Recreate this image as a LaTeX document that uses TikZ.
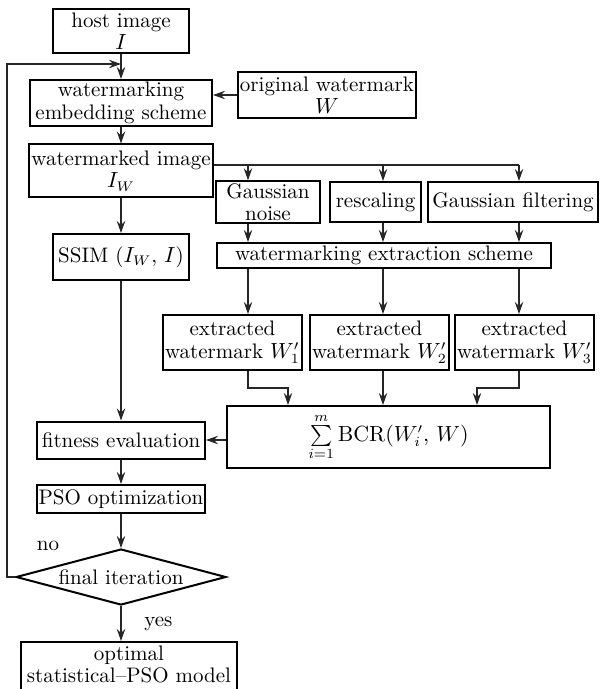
\documentclass[tikz,border=0pt]{standalone}
\usepackage{amsmath}
\usepackage{amssymb}
\usepackage{tikz}
\usetikzlibrary{shapes,arrows.meta}
\tikzset{
  wmbox/.style={rectangle, draw, line width=1pt, inner sep=1pt, align=center},
  wmline/.style={draw=black!85, line width=0.6pt, -{Stealth[length=6pt,width=4.2pt,inset=2pt]}},
  wmplain/.style={draw=black!85, line width=0.6pt}
}
\newcommand{\wmnode}[5] {\node at (#1) (#2) [wmbox, minimum width=#3, minimum height=#4] {#5};}
\newcommand{\wmtest}[3] {\node at (#1) (#2) [wmbox, diamond, aspect=3.75, inner sep=0pt, minimum width=105pt, minimum height=28pt] {#3};}
\newcommand{\wmarrow}[2] {\draw [wmline] (#1) -- (#2);}

\begin{document}
\begin{tikzpicture}[x=0.5pt, y=-0.5pt, font=\fontsize{10.5}{11.2}\selectfont]
\useasboundingbox (0,0) rectangle (599,689);
\clip (0,0) rectangle (599,689);

% left column
\wmnode {121,31}{host}{68pt}{22pt}{host image\\$I$}
\wmnode {121,103}{embed}{91pt}{23pt}{watermarking\\embedding scheme}
\wmnode {327,95}{orig}{89pt}{23pt}{original watermark\\$W$}
\wmnode {121,171}{wmimg}{92pt}{26.5pt}{watermarked image\\$I_W$}
\wmnode {121,257}{ssim}{68pt}{23pt}{SSIM ($I_W$, $I$)}
\wmnode {121,440}{fit}{84pt}{18.5pt}{fitness evaluation}
\wmnode {121,499}{pso}{83.5pt}{14pt}{PSO optimization}
\wmtest {121,577}{final}{final iteration}
\node at (129,641) (optimal) [wmbox, anchor=north, inner sep=2pt, minimum width=108pt, text depth=30pt] {optimal\\statistical--PSO model};

% attacks
\wmnode {268,202}{gauss}{52pt}{20pt}{Gaussian\\noise}
\wmnode {375.5,202}{resc}{45.5pt}{20pt}{rescaling}
\wmnode {513,202}{filt}{85pt}{20pt}{Gaussian filtering}
\wmnode {384,255.5}{extr}{167pt}{12.5pt}{watermarking extraction scheme}
\wmnode {232.5,342.5}{ex1}{68.5pt}{27.5pt}{extracted\\watermark $W_1'$}
\wmnode {379.5,342.5}{ex2}{67.5pt}{27.5pt}{extracted\\watermark $W_2'$}
\wmnode {524.5,342.5}{ex3}{67.5pt}{27.5pt}{extracted\\watermark $W_3'$}
\wmnode {388.5,437}{bcr}{161.5pt}{31pt}{$\sum\limits_{i=1}^{m}\mathrm{BCR}(W_i',\,W)$}

% main flow
\wmarrow {host.south}{embed.north}
\wmarrow {orig.west}{orig.west -| embed.east}
\wmarrow {embed.south}{wmimg.north}
\wmarrow {wmimg.south}{ssim.north}
\wmarrow {ssim.south}{fit.north}
\wmarrow {fit.east -| bcr.west}{fit.east}
\wmarrow {fit.south}{pso.north}
\wmarrow {pso.south}{final.north}
\draw [wmline] (final.south) -- (final.south |- optimal.north) node [midway, right=8pt] {yes};

% loop back
\coordinate (loop) at (7,64);
\draw [wmline] (final.west) -| (loop) -- (loop -| host.south);
\node at (48,546) (no) {no};

% branches
\coordinate (tapG) at (248,165);
\coordinate (tapR) at (383,165);
\coordinate (tapF) at (519,165);
\draw [wmplain] (wmimg.east |- tapF) -- (tapF);
\wmarrow {tapG}{tapG |- gauss.north}
\wmarrow {tapR}{tapR |- resc.north}
\wmarrow {tapF}{tapF |- filt.north}
\wmarrow {tapG |- gauss.south}{tapG |- extr.north}
\wmarrow {tapR |- resc.south}{tapR |- extr.north}
\wmarrow {tapF |- filt.south}{tapF |- extr.north}
\wmarrow {tapG |- extr.south}{tapG |- ex1.north}
\wmarrow {tapR |- extr.south}{tapR |- ex2.north}
\wmarrow {tapF |- extr.south}{tapF |- ex3.north}

\coordinate (joinA) at (288,388);
\coordinate (joinB) at (477,388);
\draw [wmline] (tapG |- ex1.south) |- (joinA) -- (joinA |- bcr.north);
\wmarrow {tapR |- ex2.south}{tapR |- bcr.north}
\draw [wmline] (tapF |- ex3.south) |- (joinB) -- (joinB |- bcr.north);

\end{tikzpicture}
\end{document}
